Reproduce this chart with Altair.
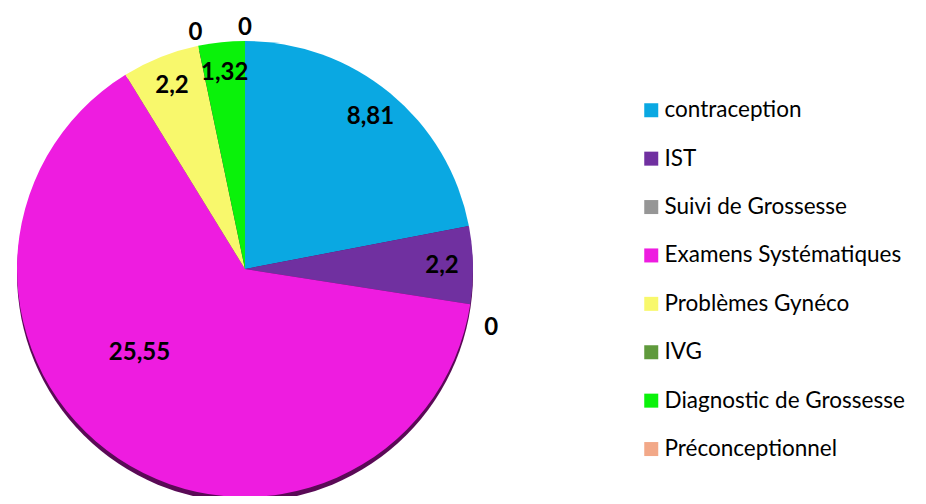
import math
import altair as alt
import pandas as pd

categories = ["contraception", "IST", "Suivi de Grossesse", "Examens Systématiques",
              "Problèmes Gynéco", "IVG", "Diagnostic de Grossesse", "Préconceptionnel"]
values = [8.81, 2.2, 0, 25.55, 2.2, 0, 1.32, 0]
labels = ["8,81", "2,2", "0", "25,55", "2,2", "0", "1,32", "0"]
colors = ["#0AA8E2", "#7030A0", "#969696", "#EE1CE0", "#F8F86C", "#5F9A3C", "#0AF20A", "#F2A888"]

df = pd.DataFrame({"cat": categories, "value": values, "label": labels, "idx": list(range(len(values)))})
total = sum(values)

CX, CY, R = 237, 261, 228
FONT = "Lato"

base = alt.Chart(df).transform_window(
    cum="sum(value)", sort=[{"field": "idx"}], frame=[None, 0]
).transform_calculate(
    start="datum.cum - datum.value", mid="datum.cum - datum.value / 2"
)

theta_scale = alt.Scale(domain=[0, total], range=[0, 2 * math.pi])

color = alt.Color(
    "cat:N",
    scale=alt.Scale(domain=categories, range=colors),
    sort=categories,
    legend=alt.Legend(
        title=None, orient="none", legendX=632, legendY=91,
        symbolType="square", symbolSize=196, symbolStrokeWidth=0,
        labelFontSize=22.5, labelFont=FONT, labelColor="#000000",
        labelOffset=2, rowPadding=25.4, labelLimit=400,
    ),
)

shadow = alt.Chart(pd.DataFrame({"k": [0]})).mark_arc(
    radius=R, theta=0, theta2=2 * math.pi, color="#5a0a56"
).encode(x=alt.value(CX), y=alt.value(CY + 5))

slices = base.mark_arc(radius=R).encode(
    x=alt.value(CX), y=alt.value(CY),
    theta=alt.Theta("start:Q", scale=theta_scale),
    theta2="cum:Q",
    color=color,
)

txt = dict(font=FONT, fontWeight="bold", fontSize=24, color="#000000", align="center", baseline="middle")

def lbl(filt, radius, dx=0, dy=0):
    return base.transform_filter(filt).mark_text(radius=radius, dx=dx, dy=dy, **txt).encode(
        x=alt.value(CX), y=alt.value(CY),
        theta=alt.Theta("mid:Q", scale=theta_scale), text="label:N")

small = lbl("datum.value > 0 && datum.value < 20", 197)
big = lbl("datum.value >= 20", 140, dx=-28, dy=-33)
zeros_top = lbl("datum.value == 0 && datum.idx > 3", 241)
zeros_side = lbl("datum.value == 0 && datum.idx <= 3", 241, dx=8, dy=22)

chart = alt.layer(shadow, slices, small, big, zeros_top, zeros_side).properties(
    width=910, height=488, padding=0, autosize=alt.AutoSizeParams(type="none")
).configure_view(stroke=None)

chart.save("out.html", embed_options={"renderer": "svg", "actions": False})
